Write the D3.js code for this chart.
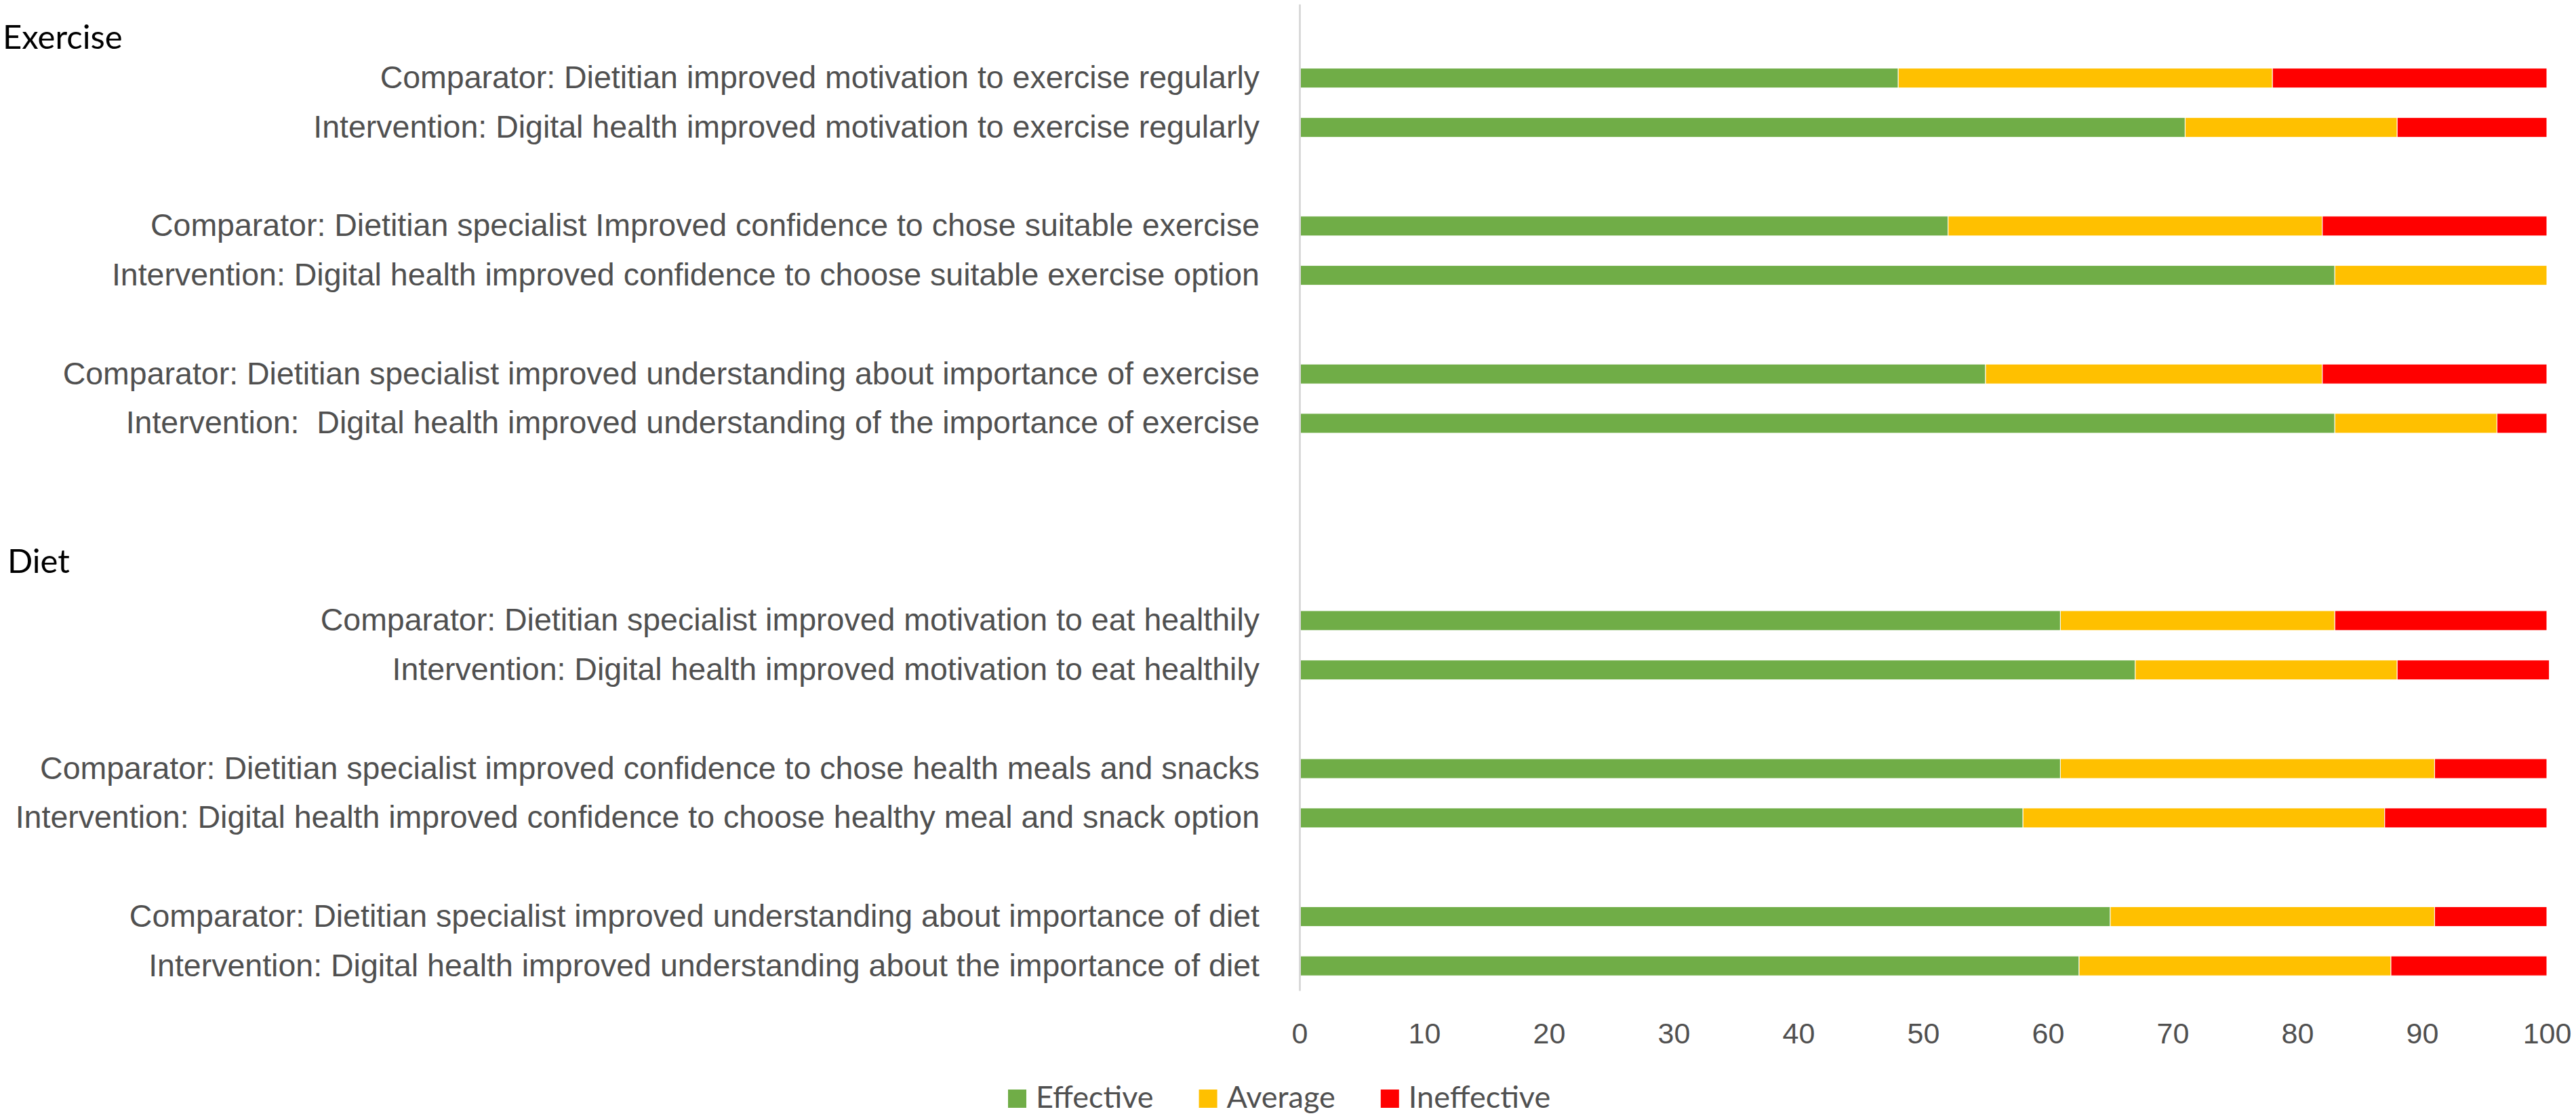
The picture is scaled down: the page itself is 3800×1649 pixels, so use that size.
<!DOCTYPE html>
<html lang="en">
<head>
<meta charset="UTF-8">
<title>Exercise and Diet ratings</title>
<script src="https://d3js.org/d3.v7.min.js"></script>
<style>
  body { margin: 0; background: white; }
  svg { display: block; font-family: Lato, "Open Sans", sans-serif; }
  .cat text { fill: #505050; font-size: 46.5px; }
  .xax text { fill: #505050; font-size: 43px; }
  .legend text { fill: #505050; font-size: 45px; }
  .head { fill: #000; font-size: 49px; }
</style>
</head>
<body>
<svg></svg>
<script>
// rows from top to bottom, "" = empty slot
const categories = [
  "",
  "Comparator: Dietitian improved motivation to exercise regularly",
  "Intervention: Digital health improved motivation to exercise regularly",
  "",
  "Comparator: Dietitian specialist Improved confidence to chose suitable exercise",
  "Intervention: Digital health improved confidence to choose suitable exercise option",
  "",
  "Comparator: Dietitian specialist improved understanding about importance of exercise",
  "Intervention:  Digital health improved understanding of the importance of exercise",
  "",
  "",
  "",
  "Comparator: Dietitian specialist improved motivation to eat healthily",
  "Intervention: Digital health improved motivation to eat healthily",
  "",
  "Comparator: Dietitian specialist improved confidence to chose health meals and snacks",
  "Intervention: Digital health improved confidence to choose healthy meal and snack option",
  "",
  "Comparator: Dietitian specialist improved understanding about importance of diet",
  "Intervention: Digital health improved understanding about the importance of diet"
];
const effective   = [null, 48, 71, null, 52, 83, null, 55, 83, null, null, null, 61, 67, null, 61, 58, null, 65, 62.5];
const average     = [null, 30, 17, null, 30, 17, null, 27, 13, null, null, null, 22, 21, null, 30, 29, null, 26, 25];
const ineffective = [null, 22, 12, null, 18, 0,  null, 18, 4,  null, null, null, 17, 12.2, null, 9, 13, null, 9, 12.5];
const seriesNames = ["Effective", "Average", "Ineffective"];
const seriesColors = ["#70AD47", "#FFC000", "#FF0000"];
const headers = ["Exercise", "Diet"];
const xTicks = [0, 10, 20, 30, 40, 50, 60, 70, 80, 90, 100];

const w = 3800, h = 1649;
const plotLeft = 1917, plotRight = 3757, plotTop = 6, plotBottom = 1461;

const svg = d3.select("svg").attr("width", w).attr("height", h);

const idx = categories.map((d, i) => i);
const rows = idx.filter(i => effective[i] !== null)
  .map(i => ({ i: i, Effective: effective[i], Average: average[i], Ineffective: ineffective[i] }));

const x = d3.scaleLinear().domain([0, 100]).range([plotLeft, plotRight]);
const y = d3.scaleBand().domain(idx).range([plotTop, plotBottom]).paddingInner(0.6).paddingOuter(0.3);
const color = d3.scaleOrdinal().domain(seriesNames).range(seriesColors);

const stacked = d3.stack().keys(seriesNames)(rows);

svg.append("g")
  .selectAll("g")
  .data(stacked)
  .join("g")
    .attr("fill", d => color(d.key))
  .selectAll("rect")
  .data(d => d)
  .join("rect")
    .attr("x", d => x(d[0]))
    .attr("y", d => y(d.data.i))
    .attr("width", d => x(d[1]) - x(d[0]))
    .attr("height", y.bandwidth())
    .attr("stroke", "#fff")
    .attr("stroke-width", 1);

// category axis
const yAxis = d3.axisLeft(y).tickSize(0).tickPadding(59).tickFormat(i => categories[i]);
const gy = svg.append("g").attr("class", "cat")
  .attr("transform", "translate(" + plotLeft + ",0)")
  .call(yAxis);
gy.select(".domain").attr("stroke", "#d9d9d9").attr("stroke-width", 3);
gy.selectAll("text").style("white-space", "pre");

// value axis
const xAxis = d3.axisBottom(x).tickValues(xTicks).tickSize(0).tickPadding(47);
const gx = svg.append("g").attr("class", "xax")
  .attr("transform", "translate(0," + plotBottom + ")")
  .call(xAxis);
gx.select(".domain").remove();

// group headings
svg.append("text").attr("class", "head").attr("x", 4).attr("y", 72).text(headers[0]);
svg.append("text").attr("class", "head").attr("x", 11).attr("y", 845).text(headers[1]);

// legend
const legend = svg.append("g").attr("class", "legend");
let lx = 1487;
seriesNames.forEach((name, k) => {
  legend.append("rect")
    .attr("x", lx).attr("y", 1607)
    .attr("width", 27).attr("height", 27)
    .attr("fill", seriesColors[k]);
  const t = legend.append("text")
    .attr("x", lx + 41).attr("y", 1634)
    .text(name);
  lx += 41 + t.node().getComputedTextLength() + 67;
});
</script>
</body>
</html>
